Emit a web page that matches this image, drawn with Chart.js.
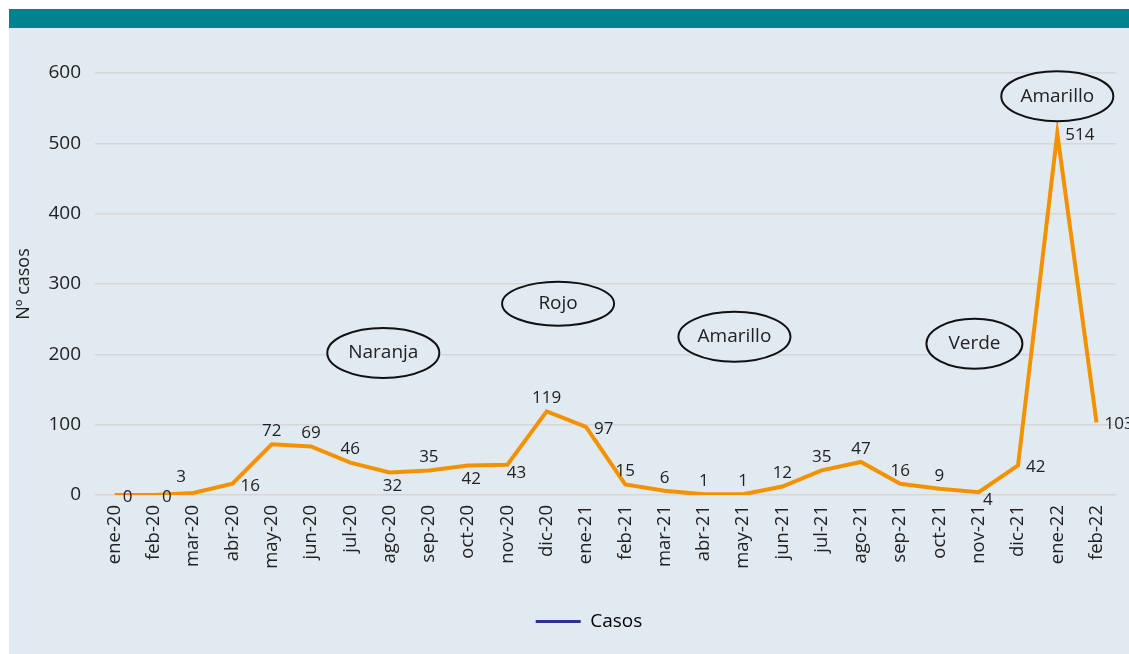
<!DOCTYPE html>
<html>
<head>
<meta charset="utf-8">
<script src="https://cdn.jsdelivr.net/npm/chart.js@4"></script>
<style>
  html, body { margin: 0; padding: 0; background: #ffffff; }
  #panel { position: absolute; left: 9px; top: 0; width: 1120px; height: 654px; }
  #bar { height: 9px; background: #ffffff; }
  #teal { height: 19px; background: #00838f; }
  #wrap { width: 1120px; height: 626px; background: #e1eaf0; }
</style>
</head>
<body>
<div id="panel">
  <div id="bar"></div>
  <div id="teal"></div>
  <div id="wrap"><canvas id="chart" width="1120" height="626"></canvas></div>
</div>
<script>
// Months
const meses = ["ene-20", "feb-20", "mar-20", "abr-20", "may-20", "jun-20", "jul-20", "ago-20",
    "sep-20", "oct-20", "nov-20", "dic-20", "ene-21", "feb-21", "mar-21", "abr-21", "may-21",
    "jun-21", "jul-21", "ago-21", "sep-21", "oct-21", "nov-21", "dic-21", "ene-22", "feb-22"];

// Nº casos per month
const casos = [0, 0, 3, 16, 72, 69, 46, 32, 35, 42, 43, 119, 97, 15, 6, 1, 1, 12, 35, 47, 16, 9, 4, 42, 514, 103];

const yTicks = [0, 100, 200, 300, 400, 500, 600];

// Alert levels written in ellipses
const nivelTexto = ["Naranja", "Rojo", "Amarillo", "Verde", "Amarillo"];
const nivelMes = [6.84, 11.29, 15.78, 21.89, 24.0];   // category position
const nivelValor = [202, 272, 225, 215, 567];          // y value

const textColor = "#222222";
const fontFamily = "'Open Sans', sans-serif";

// where each value label sits relative to its point
// r = right, a = above, al = above left, b = below, br = below right
const labelPos = ["r", "r", "al", "r", "a", "a", "a", "b", "a", "b", "br", "a", "r",
    "a", "a", "a", "a", "a", "a", "a", "a", "a", "br", "r", "r", "r"];
const labelShift = {
    r: [8, 2, "left"],
    a: [0, -13, "center"],
    al: [-12, -16, "center"],
    b: [3, 14, "center"],
    br: [9, 8, "center"]
};

const valueLabels = {
    id: "valueLabels",
    afterDatasetsDraw(chart) {
        const ctx = chart.ctx;
        const meta = chart.getDatasetMeta(0);
        ctx.save();
        ctx.font = "17px " + fontFamily;
        ctx.fillStyle = textColor;
        ctx.textBaseline = "middle";
        meta.data.forEach((pt, i) => {
            const s = labelShift[labelPos[i]];
            ctx.textAlign = s[2];
            ctx.fillText(casos[i], pt.x + s[0], pt.y + s[1]);
        });
        ctx.restore();
    }
};

const ellipses = {
    id: "ellipses",
    afterDraw(chart) {
        const ctx = chart.ctx;
        const xs = chart.scales.x, ys = chart.scales.y;
        ctx.save();
        ctx.font = "19px " + fontFamily;
        ctx.textAlign = "center";
        ctx.textBaseline = "middle";
        nivelTexto.forEach((t, i) => {
            const cx = xs.getPixelForValue(nivelMes[i]);
            const cy = ys.getPixelForValue(nivelValor[i]);
            const rx = t === "Verde" ? 48 : 56;
            const ry = t === "Rojo" ? 22 : 25;
            ctx.beginPath();
            ctx.ellipse(cx, cy, rx, ry, 0, 0, Math.PI * 2);
            ctx.fillStyle = "#e1eaf0";
            ctx.fill();
            ctx.lineWidth = 2;
            ctx.strokeStyle = "#111111";
            ctx.stroke();
            ctx.fillStyle = textColor;
            ctx.fillText(t, cx, cy);
        });
        ctx.restore();
    }
};

// the legend sits a bit right of centre in the original
const legendShift = {
    id: "legendShift",
    afterLayout(chart) {
        chart.legend.left += 26;
        chart.legend.right += 26;
    }
};

const ctx = document.getElementById("chart").getContext("2d");
new Chart(ctx, {
    type: "line",
    data: {
        labels: meses,
        datasets: [{
            label: "Casos",
            data: casos,
            borderColor: "#f39200",
            borderWidth: 4,
            pointRadius: 0,
            tension: 0,
            fill: false
        }]
    },
    options: {
        responsive: false,
        animation: false,
        layout: { padding: { top: 45, right: 12, bottom: 13, left: 0 } },
        plugins: {
            tooltip: { enabled: false },
            legend: {
                position: "bottom",
                labels: {
                    font: { family: fontFamily, size: 19 },
                    color: textColor,
                    boxWidth: 45,
                    boxHeight: 3,
                    padding: 10,
                    generateLabels: () => [{
                        text: "Casos",
                        fillStyle: "#2e3192",
                        strokeStyle: "#2e3192",
                        lineWidth: 0,
                        datasetIndex: 0
                    }]
                }
            }
        },
        scales: {
            x: {
                offset: true,
                grid: { display: false, drawTicks: false },
                border: { display: false },
                ticks: {
                    minRotation: 90,
                    maxRotation: 90,
                    padding: 10,
                    autoSkip: false,
                    color: textColor,
                    font: { family: fontFamily, size: 18.5 }
                },
                afterFit: s => { s.height = 107; }
            },
            y: {
                min: 0,
                max: 600,
                afterBuildTicks: s => { s.ticks = yTicks.map(v => ({ value: v })); },
                grid: { color: "#d6d6d6", lineWidth: 1.5, drawTicks: false },
                border: { display: false },
                ticks: {
                    padding: 14,
                    color: textColor,
                    font: { family: fontFamily, size: 19 }
                },
                title: {
                    display: true,
                    text: "Nº casos",
                    color: textColor,
                    font: { family: fontFamily, size: 18 },
                    padding: { top: 4, bottom: 0 }
                },
                afterFit: s => { s.width = 86; }
            }
        }
    },
    plugins: [valueLabels, ellipses, legendShift]
});
</script>
</body>
</html>
